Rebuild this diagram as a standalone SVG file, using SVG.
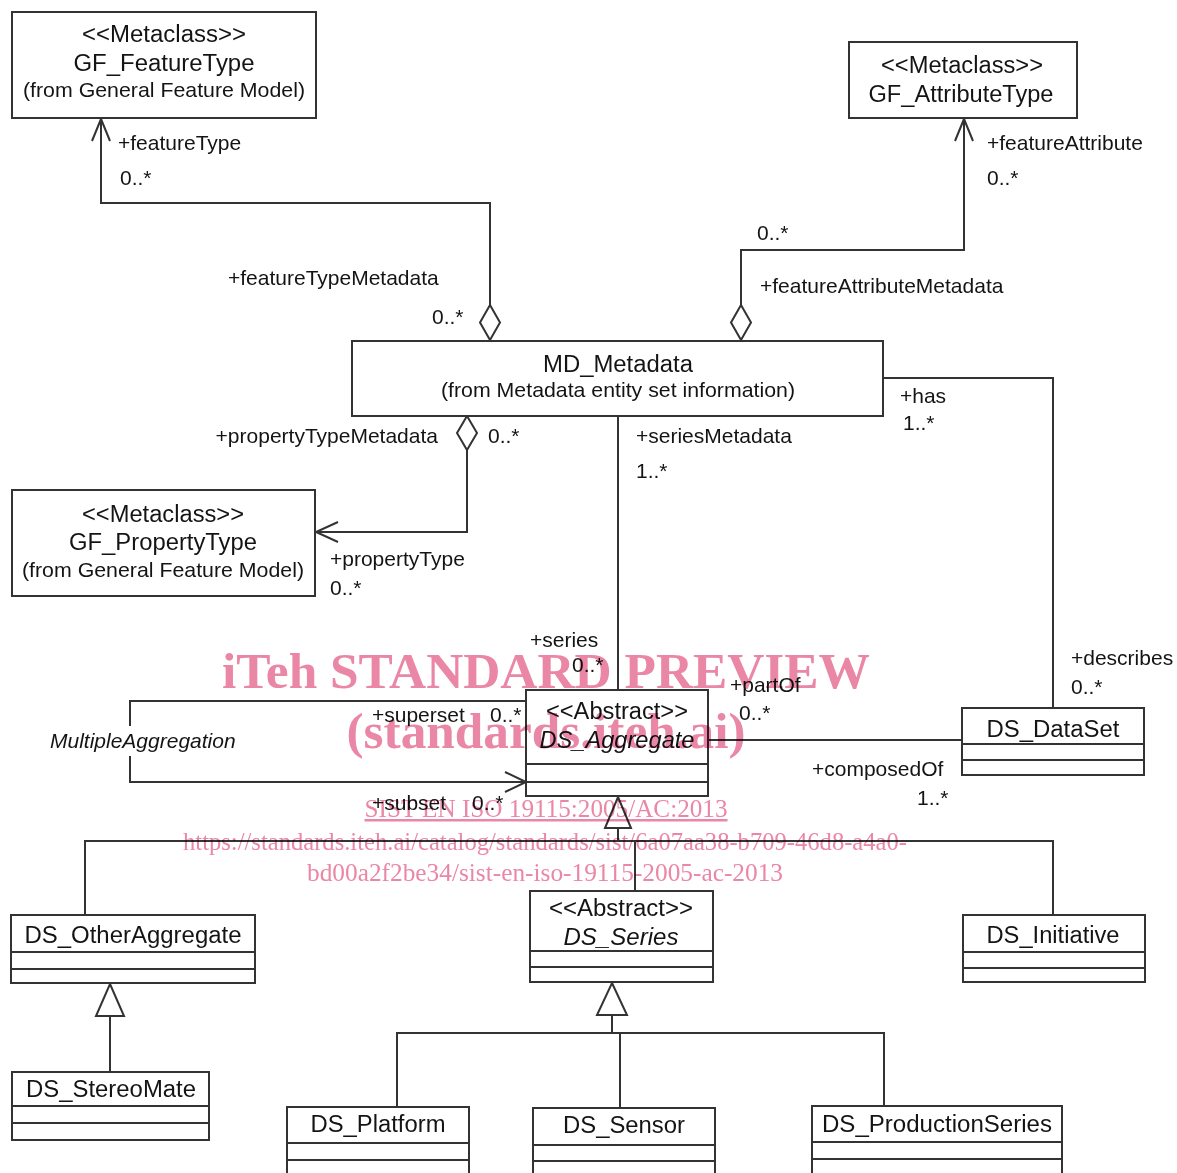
<svg xmlns="http://www.w3.org/2000/svg" width="1177" height="1173" viewBox="0 0 1177 1173">
<style>
.box{fill:#fff;stroke:#333;stroke-width:2}
.sep{fill:none;stroke:#333;stroke-width:2}
.ln{fill:none;stroke:#333;stroke-width:2}
.hd{fill:#fff;stroke:#333;stroke-width:2}
text{font-family:"Liberation Sans",Arial,Helvetica,sans-serif;fill:#141414}
.nm{font-size:23px;text-anchor:middle}
.fr{font-size:21px;text-anchor:middle}
.lb{font-size:21px}
.it{font-style:italic}
#watermark{mix-blend-mode:multiply}
.wm{font-family:"Liberation Serif","Times New Roman",serif;fill:#ea87a6;text-anchor:middle}
.wb{font-size:51px;font-weight:bold}
.ws{font-size:25px}
</style>
<rect width="1177" height="1173" fill="#fff"/>
<g id="connectors">
  <path class="ln" d="M490,305 V203 H101 V119"/>
  <path class="ln" d="M92,141 L101,119 L110,141"/>
  <polygon class="hd" points="490,305 500,322.5 490,340 480,322.5"/>
  <path class="ln" d="M741,305 V250 H964 V119"/>
  <path class="ln" d="M955,141 L964,119 L973,141"/>
  <polygon class="hd" points="741,305 751,322.5 741,340 731,322.5"/>
  <path class="ln" d="M467,450 V532 H316"/>
  <path class="ln" d="M338,522 L316,532 L338,542"/>
  <polygon class="hd" points="467,416 477,433 467,450 457,433"/>
  <path class="ln" d="M618,416 V690"/>
  <path class="ln" d="M883,378 H1053 V708"/>
  <path class="ln" d="M708,740 H962"/>
  <path class="ln" d="M526,701 H130 V726 M130,756 V782 H526"/>
  <path class="ln" d="M505,772 L526,782 L505,792"/>
  <path class="ln" d="M618,828 V841 M85,915 V841 H1053 V915 M635,841 V891"/>
  <polygon class="hd" points="618,797 631,828 605,828"/>
  <path class="ln" d="M110,1016 V1072"/>
  <polygon class="hd" points="110,984 124,1016 96,1016"/>
  <path class="ln" d="M612,1015 V1033 M397,1107 V1033 H884 V1106 M620,1033 V1108"/>
  <polygon class="hd" points="612,983 627,1015 597,1015"/>
  <text class="lb" x="118" y="150">+featureType</text>
  <text class="lb" x="120" y="185">0..*</text>
  <text class="lb" x="228" y="285">+featureTypeMetadata</text>
  <text class="lb" x="432" y="324">0..*</text>
  <text class="lb" x="987" y="150">+featureAttribute</text>
  <text class="lb" x="987" y="185">0..*</text>
  <text class="lb" x="757" y="240">0..*</text>
  <text class="lb" x="760" y="293">+featureAttributeMetadata</text>
  <text class="lb" x="438" y="443" text-anchor="end">+propertyTypeMetadata</text>
  <text class="lb" x="488" y="443">0..*</text>
  <text class="lb" x="330" y="566">+propertyType</text>
  <text class="lb" x="330" y="595">0..*</text>
  <text class="lb" x="636" y="443">+seriesMetadata</text>
  <text class="lb" x="636" y="478">1..*</text>
  <text class="lb" x="900" y="403">+has</text>
  <text class="lb" x="903" y="430">1..*</text>
  <text class="lb" x="1071" y="665">+describes</text>
  <text class="lb" x="1071" y="694">0..*</text>
  <text class="lb" x="530" y="647">+series</text>
  <text class="lb" x="572" y="672">0..*</text>
  <text class="lb" x="730" y="692">+partOf</text>
  <text class="lb" x="739" y="720">0..*</text>
  <text class="lb" x="812" y="776">+composedOf</text>
  <text class="lb" x="917" y="805">1..*</text>
  <text class="lb" x="372" y="722">+superset</text>
  <text class="lb" x="490" y="722">0..*</text>
  <text class="lb" x="372" y="810">+subset</text>
  <text class="lb" x="472" y="810">0..*</text>
  <text class="lb it" x="50" y="748">MultipleAggregation</text>
</g>
<g id="GF_FeatureType">
  <rect class="box" x="12" y="12" width="304" height="106"/>
  <text class="nm" x="164" y="42" textLength="164" lengthAdjust="spacingAndGlyphs">&lt;&lt;Metaclass&gt;&gt;</text>
  <text class="nm" x="164" y="71" textLength="181" lengthAdjust="spacingAndGlyphs">GF_FeatureType</text>
  <text class="fr" x="164" y="97" textLength="282" lengthAdjust="spacingAndGlyphs">(from General Feature Model)</text>
</g>
<g id="GF_AttributeType">
  <rect class="box" x="849" y="42" width="228" height="76"/>
  <text class="nm" x="962" y="73" textLength="162" lengthAdjust="spacingAndGlyphs">&lt;&lt;Metaclass&gt;&gt;</text>
  <text class="nm" x="961" y="102" textLength="185" lengthAdjust="spacingAndGlyphs">GF_AttributeType</text>
</g>
<g id="GF_PropertyType">
  <rect class="box" x="12" y="490" width="303" height="106"/>
  <text class="nm" x="163" y="522" textLength="162" lengthAdjust="spacingAndGlyphs">&lt;&lt;Metaclass&gt;&gt;</text>
  <text class="nm" x="163" y="550" textLength="188" lengthAdjust="spacingAndGlyphs">GF_PropertyType</text>
  <text class="fr" x="163" y="577" textLength="282" lengthAdjust="spacingAndGlyphs">(from General Feature Model)</text>
</g>
<g id="MD_Metadata">
  <rect class="box" x="352" y="341" width="531" height="75"/>
  <text class="nm" x="618" y="372" textLength="150" lengthAdjust="spacingAndGlyphs">MD_Metadata</text>
  <text class="fr" x="618" y="397" textLength="354" lengthAdjust="spacingAndGlyphs">(from Metadata entity set information)</text>
</g>
<g id="DS_Aggregate">
  <rect class="box" x="526" y="690" width="182" height="106"/>
  <path class="sep" d="M526,764 H708 M526,782 H708"/>
  <text class="nm" x="617" y="719" textLength="142" lengthAdjust="spacingAndGlyphs">&lt;&lt;Abstract&gt;&gt;</text>
  <text class="nm it" x="617" y="748" textLength="155" lengthAdjust="spacingAndGlyphs">DS_Aggregate</text>
</g>
<g id="DS_DataSet">
  <rect class="box" x="962" y="708" width="182" height="67"/>
  <path class="sep" d="M962,744 H1144 M962,760 H1144"/>
  <text class="nm" x="1053" y="737" textLength="133" lengthAdjust="spacingAndGlyphs">DS_DataSet</text>
</g>
<g id="DS_OtherAggregate">
  <rect class="box" x="11" y="915" width="244" height="68"/>
  <path class="sep" d="M11,952 H255 M11,969 H255"/>
  <text class="nm" x="133" y="943" textLength="217" lengthAdjust="spacingAndGlyphs">DS_OtherAggregate</text>
</g>
<g id="DS_Series">
  <rect class="box" x="530" y="891" width="183" height="91"/>
  <path class="sep" d="M530,951 H713 M530,967 H713"/>
  <text class="nm" x="621" y="916" textLength="144" lengthAdjust="spacingAndGlyphs">&lt;&lt;Abstract&gt;&gt;</text>
  <text class="nm it" x="621" y="945" textLength="115" lengthAdjust="spacingAndGlyphs">DS_Series</text>
</g>
<g id="DS_Initiative">
  <rect class="box" x="963" y="915" width="182" height="67"/>
  <path class="sep" d="M963,952 H1145 M963,968 H1145"/>
  <text class="nm" x="1053" y="943" textLength="133" lengthAdjust="spacingAndGlyphs">DS_Initiative</text>
</g>
<g id="DS_StereoMate">
  <rect class="box" x="12" y="1072" width="197" height="68"/>
  <path class="sep" d="M12,1106 H209 M12,1123 H209"/>
  <text class="nm" x="111" y="1097" textLength="170" lengthAdjust="spacingAndGlyphs">DS_StereoMate</text>
</g>
<g id="DS_Platform">
  <rect class="box" x="287" y="1107" width="182" height="75"/>
  <path class="sep" d="M287,1143 H469 M287,1160 H469"/>
  <text class="nm" x="378" y="1132" textLength="135" lengthAdjust="spacingAndGlyphs">DS_Platform</text>
</g>
<g id="DS_Sensor">
  <rect class="box" x="533" y="1108" width="182" height="75"/>
  <path class="sep" d="M533,1145 H715 M533,1161 H715"/>
  <text class="nm" x="624" y="1133" textLength="122" lengthAdjust="spacingAndGlyphs">DS_Sensor</text>
</g>
<g id="DS_ProductionSeries">
  <rect class="box" x="812" y="1106" width="250" height="75"/>
  <path class="sep" d="M812,1142 H1062 M812,1159 H1062"/>
  <text class="nm" x="937" y="1132" textLength="230" lengthAdjust="spacingAndGlyphs">DS_ProductionSeries</text>
</g>
<g id="watermark">
  <text class="wm wb" x="546" y="688" textLength="648" lengthAdjust="spacingAndGlyphs">iTeh STANDARD PREVIEW</text>
  <text class="wm wb" x="546" y="748" textLength="399" lengthAdjust="spacingAndGlyphs">(standards.iteh.ai)</text>
  <text class="wm ws" x="546" y="817" textLength="363" lengthAdjust="spacingAndGlyphs" text-decoration="underline">SIST EN ISO 19115:2005/AC:2013</text>
  <text class="wm ws" x="545" y="850" textLength="724" lengthAdjust="spacingAndGlyphs">https://standards.iteh.ai/catalog/standards/sist/6a07aa38-b709-46d8-a4a0-</text>
  <text class="wm ws" x="545" y="881" textLength="476" lengthAdjust="spacingAndGlyphs">bd00a2f2be34/sist-en-iso-19115-2005-ac-2013</text>
</g>
</svg>
